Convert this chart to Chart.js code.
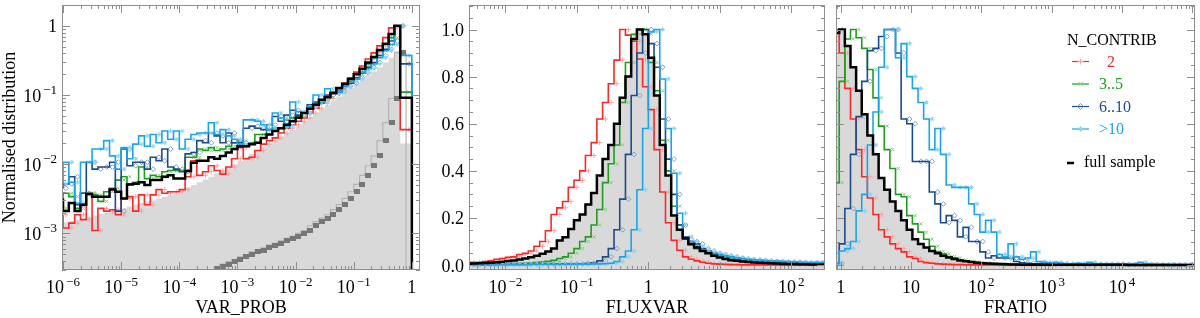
<!DOCTYPE html>
<html>
<head>
<meta charset="utf-8">
<title>N_CONTRIB distributions</title>
<script src="https://cdn.jsdelivr.net/npm/chart.js@4.4.1/dist/chart.umd.min.js"></script>
<style>
  html, body { margin: 0; padding: 0; background: #fff; }
  #wrap { position: relative; width: 1200px; height: 318px; overflow: hidden; }
  #wrap canvas { position: absolute; top: 0; }
</style>
</head>
<body>
<div id="wrap">
  <canvas id="varProbChart" width="430" height="318" style="left:0px"></canvas>
  <canvas id="fluxvarChart" width="400" height="318" style="left:430px"></canvas>
  <canvas id="fratioChart" width="370" height="318" style="left:830px"></canvas>
</div>
<script>
// ---- VAR_PROB panel: bins of 0.1 dex starting at 10^-6 ----
const varProbBinStart = -6;
const varProbBinWidth = 0.1;
const varProbRed = [
  1.86e-3, 1.2e-3, 1.41e-3, 1.86e-3, 1.58e-3, 3.8e-3, 1.1e-3, 2.3e-3, 2.1e-3, 2.2e-3,
  1.86e-3, 3.2e-3, 3.4e-3, 2.1e-3, 3.6e-3, 2.6e-3, 3.6e-3, 4.3e-3, 3.8e-3, 4.0e-3,
  4.0e-3, 4.3e-3, 6.6e-3, 0.0112, 6.9e-3, 7.8e-3, 9.5e-3, 8.1e-3, 7.2e-3, 9.1e-3,
  0.012, 0.0174, 0.012, 0.0126, 0.0158, 0.0195, 0.0219, 0.024, 0.0282, 0.0331,
  0.0372, 0.0417, 0.0468, 0.055, 0.0646, 0.0759, 0.0891, 0.105, 0.123, 0.148,
  0.178, 0.214, 0.263, 0.331, 0.407, 0.513, 0.676, 0.933, 1.0, 0.0316
];
const varProbGreen = [
  2.3e-3, 3.8e-3, 3.4e-3, 2.3e-3, 3.8e-3, 3.8e-3, 3.6e-3, 2.9e-3, 4.0e-3, 4.5e-3,
  5.9e-3, 6.6e-3, 5.2e-3, 5.5e-3, 9.1e-3, 6.2e-3, 6.9e-3, 6.6e-3, 7.8e-3, 8.1e-3,
  8.1e-3, 8.1e-3, 0.0126, 0.0126, 0.0166, 0.0158, 0.0174, 0.0158, 0.0166, 0.0182,
  0.0204, 0.0219, 0.0195, 0.0204, 0.0269, 0.0269, 0.0316, 0.0331, 0.0331, 0.0437,
  0.0468, 0.049, 0.055, 0.0646, 0.0759, 0.0851, 0.0933, 0.11, 0.123, 0.145,
  0.166, 0.2, 0.234, 0.282, 0.347, 0.437, 0.537, 0.676, 1.0, 0.11
];
const varProbDarkBlue = [
  4.5e-3, 5.2e-3, 6.6e-3, 2.6e-3, 3.8e-3, 0.0107, 8.5e-3, 9.1e-3, 9.1e-3, 0.0107,
  2.1e-3, 0.0166, 9.5e-3, 0.0107, 0.0107, 8.5e-3, 0.0126, 0.0112, 0.0166, 9.1e-3,
  8.5e-3, 7.8e-3, 0.0141, 0.0148, 0.0219, 0.0204, 0.0282, 0.0257, 0.0204, 0.0282,
  0.0204, 0.0204, 0.0331, 0.0355, 0.0331, 0.0316, 0.0372, 0.049, 0.0417, 0.0513,
  0.0603, 0.0513, 0.055, 0.0724, 0.0794, 0.0851, 0.1, 0.105, 0.115, 0.135,
  0.148, 0.178, 0.209, 0.251, 0.295, 0.372, 0.457, 0.603, 1.0, 0.282
];
const varProbLightBlue = [
  5.2e-3, 0.0107, 5.5e-3, 2.75e-3, 0.0107, 0.0107, 0.0166, 0.0166, 0.0219, 0.0132,
  8.5e-3, 0.0174, 0.012, 0.0195, 0.0257, 0.0182, 0.0269, 0.0204, 0.0302, 0.0229,
  0.0302, 0.0166, 0.0229, 0.0269, 0.0282, 0.0282, 0.0398, 0.0269, 0.0316, 0.0257,
  0.0229, 0.0195, 0.0437, 0.0437, 0.0417, 0.0372, 0.0316, 0.055, 0.0468, 0.0355,
  0.0794, 0.0575, 0.055, 0.0676, 0.1, 0.0794, 0.123, 0.11, 0.11, 0.132,
  0.155, 0.17, 0.214, 0.24, 0.282, 0.347, 0.437, 0.537, 1.0, 0.372
];
const varProbFull = [
  3.2e-3, 2.1e-3, 2.75e-3, 2.1e-3, 2.6e-3, 3.7e-3, 3.4e-3, 3.4e-3, 3.4e-3, 4.3e-3,
  4.0e-3, 3.2e-3, 5.1e-3, 5.2e-3, 5.5e-3, 5.0e-3, 5.9e-3, 5.9e-3, 6.6e-3, 6.9e-3,
  6.2e-3, 6.2e-3, 8.0e-3, 0.0105, 0.0112, 0.0112, 0.0126, 0.012, 0.0132, 0.0148,
  0.0166, 0.0182, 0.0182, 0.0195, 0.0204, 0.024, 0.0269, 0.0302, 0.0331, 0.0372,
  0.0417, 0.0468, 0.055, 0.0631, 0.0724, 0.0851, 0.0933, 0.107, 0.126, 0.145,
  0.17, 0.2, 0.24, 0.295, 0.355, 0.447, 0.55, 0.759, 1.0, 0.0912
];
const varProbGreyFill = [
  1.41e-3, 1.45e-3, 1.51e-3, 1.58e-3, 1.66e-3, 1.74e-3, 1.82e-3, 1.91e-3, 2.0e-3, 2.1e-3,
  2.2e-3, 2.3e-3, 2.45e-3, 2.6e-3, 2.75e-3, 2.9e-3, 3.0e-3, 3.2e-3, 3.4e-3, 3.6e-3,
  3.8e-3, 4.2e-3, 4.6e-3, 5.0e-3, 5.5e-3, 6.0e-3, 6.6e-3, 7.4e-3, 8.1e-3, 9.1e-3,
  0.01, 0.0112, 0.0126, 0.0141, 0.0158, 0.0178, 0.02, 0.0224, 0.0251, 0.0282,
  0.0316, 0.0363, 0.0417, 0.0479, 0.055, 0.0631, 0.0724, 0.0832, 0.0955, 0.11,
  0.126, 0.145, 0.166, 0.191, 0.219, 0.251, 0.295, 0.347, 0.437, 0.02
];
// dark grey reference histogram, same bins, starting at 10^-3.4
const varProbSquaresStart = -3.4;
const varProbSquares = [
  3.1e-4, 3.3e-4, 3.6e-4, 3.9e-4, 4.2e-4, 4.6e-4, 4.9e-4, 5.4e-4, 5.75e-4, 6.2e-4,
  6.8e-4, 7.2e-4, 7.8e-4, 8.5e-4, 9.1e-4, 1.0e-3, 1.1e-3, 1.29e-3, 1.48e-3, 1.66e-3,
  1.86e-3, 2.2e-3, 2.6e-3, 3.2e-3, 4.0e-3, 5.1e-3, 6.9e-3, 9.5e-3, 0.0132, 0.0219,
  0.0398, 0.0891, 0.407
];

// ---- FLUXVAR panel: bins of 0.08 dex starting at 10^-2.56 ----
const fluxvarBinStart = -2.56;
const fluxvarBinWidth = 0.08;
const fluxvarRed = [
  0.008, 0.01, 0.012, 0.012, 0.015, 0.018, 0.025, 0.028, 0.033, 0.035, 0.045, 0.05, 0.06, 0.08, 0.10, 0.146,
  0.215, 0.243, 0.27, 0.33, 0.36, 0.40, 0.465, 0.52, 0.62, 0.69, 0.77, 0.87, 1.0, 0.976, 0.95, 0.875,
  0.757, 0.66, 0.49, 0.31, 0.18, 0.105, 0.063, 0.035, 0.025, 0.018, 0.012, 0.008, 0.005, 0.004, 0.003, 0.002,
  0.002, 0.001, 0.001, 0.001, 0.001, 0.001, 0.001, 0.001, 0, 0, 0, 0, 0, 0, 0
];
const fluxvarGreen = [
  0.002, 0.002, 0.003, 0.003, 0.003, 0.004, 0.004, 0.005, 0.005, 0.006, 0.007, 0.008, 0.009, 0.011, 0.013, 0.016,
  0.02, 0.028, 0.035, 0.05, 0.07, 0.10, 0.12, 0.17, 0.236, 0.35, 0.43, 0.51, 0.69, 0.86, 0.98, 1.0,
  0.98, 0.86, 0.74, 0.53, 0.40, 0.25, 0.17, 0.12, 0.085, 0.07, 0.06, 0.05, 0.045, 0.04, 0.035, 0.03,
  0.025, 0.022, 0.02, 0.018, 0.015, 0.013, 0.012, 0.01, 0.009, 0.008, 0.007, 0.006, 0.005, 0.005, 0.004
];
const fluxvarDarkBlue = [
  0.002, 0.002, 0.002, 0.002, 0.002, 0.002, 0.003, 0.003, 0.003, 0.003, 0.003, 0.003, 0.004, 0.004, 0.004, 0.004,
  0.005, 0.005, 0.005, 0.005, 0.005, 0.006, 0.008, 0.01, 0.018, 0.035, 0.07, 0.15, 0.28, 0.47, 0.72, 0.90,
  1.0, 0.94, 0.84, 0.62, 0.45, 0.30, 0.17, 0.11, 0.10, 0.09, 0.07, 0.06, 0.05, 0.045, 0.04, 0.035,
  0.03, 0.027, 0.024, 0.022, 0.02, 0.018, 0.016, 0.015, 0.014, 0.013, 0.012, 0.011, 0.01, 0.01, 0.01
];
const fluxvarLightBlue = [
  0.002, 0.002, 0.002, 0.002, 0.002, 0.002, 0.002, 0.002, 0.002, 0.002, 0.002, 0.002, 0.003, 0.003, 0.003, 0.003,
  0.003, 0.003, 0.003, 0.003, 0.004, 0.004, 0.004, 0.005, 0.005, 0.006, 0.008, 0.015, 0.035, 0.06, 0.15, 0.32,
  0.58, 0.99, 1.0, 0.79, 0.58, 0.39, 0.22, 0.12, 0.10, 0.08, 0.065, 0.055, 0.05, 0.045, 0.04, 0.035,
  0.03, 0.028, 0.025, 0.022, 0.02, 0.019, 0.018, 0.017, 0.016, 0.015, 0.014, 0.013, 0.012, 0.012, 0.012
];
const fluxvarFull = [
  0.005, 0.006, 0.007, 0.008, 0.009, 0.01, 0.012, 0.014, 0.017, 0.02, 0.024, 0.028, 0.033, 0.04, 0.048, 0.058,
  0.07, 0.104, 0.118, 0.153, 0.19, 0.215, 0.257, 0.306, 0.38, 0.45, 0.51, 0.60, 0.71, 0.80, 0.96, 1.0,
  0.98, 0.88, 0.72, 0.51, 0.38, 0.21, 0.15, 0.115, 0.09, 0.075, 0.06, 0.05, 0.04, 0.032, 0.026, 0.021,
  0.018, 0.015, 0.013, 0.011, 0.01, 0.009, 0.008, 0.007, 0.006, 0.005, 0.005, 0.004, 0.004, 0.003, 0.003
];

// ---- FRATIO panel: bins of 0.08 dex starting at 10^-0.1 ----
const fratioBinStart = -0.1;
const fratioBinWidth = 0.08;
const fratioRed = [
  0.97, 1.0, 0.90, 0.75, 0.62, 0.49, 0.375, 0.285, 0.215, 0.15, 0.12, 0.09, 0.07, 0.056, 0.035, 0.028,
  0.015, 0.01, 0.008, 0.005, 0.004, 0.003, 0.002, 0.002, 0.001, 0.001, 0.001, 0.001, 0.001, 0.001, 0.001, 0.001,
  0, 0, 0, 0, 0, 0, 0, 0, 0, 0, 0, 0, 0, 0, 0, 0,
  0, 0, 0, 0, 0, 0, 0, 0, 0, 0, 0, 0, 0, 0, 0, 0, 0
];
const fratioGreen = [
  0, 0.35, 0.78, 0.96, 1.0, 0.965, 0.92, 0.83, 0.71, 0.59, 0.49, 0.41, 0.30, 0.29, 0.21, 0.175,
  0.14, 0.11, 0.08, 0.058, 0.048, 0.036, 0.03, 0.022, 0.017, 0.014, 0.011, 0.009, 0.007, 0.006, 0.005, 0.004,
  0.003, 0.003, 0.002, 0.002, 0.002, 0.002, 0.001, 0.001, 0.001, 0.001, 0.001, 0.001, 0.001, 0.001, 0.001, 0.001,
  0.001, 0.001, 0.001, 0.001, 0.001, 0, 0, 0, 0, 0, 0, 0, 0, 0, 0, 0, 0
];
const fratioDarkBlue = [
  0, 0.007, 0.09, 0.24, 0.47, 0.63, 0.78, 0.91, 0.92, 0.97, 1.0, 1.0, 0.90, 0.62, 0.60, 0.44,
  0.44, 0.44, 0.31, 0.26, 0.18, 0.21, 0.19, 0.12, 0.16, 0.10, 0.10, 0.056, 0.03, 0.04, 0.03, 0.03,
  0.03, 0.015, 0.01, 0.008, 0.006, 0.005, 0.006, 0.005, 0.004, 0.005, 0.004, 0.004, 0.003, 0.004, 0.003, 0.003,
  0.003, 0.002, 0.003, 0.002, 0.002, 0.002, 0.002, 0.002, 0.002, 0.002, 0.001, 0.001, 0.001, 0.001, 0.001, 0.001, 0.001
];
const fratioLightBlue = [
  0, 0.007, 0.06, 0.07, 0.10, 0.23, 0.30, 0.51, 0.65, 0.84, 1.0, 1.0, 0.88, 0.94, 0.80, 0.75,
  0.69, 0.62, 0.49, 0.58, 0.47, 0.34, 0.33, 0.33, 0.33, 0.26, 0.215, 0.14, 0.19, 0.14, 0.045, 0.035,
  0.09, 0.035, 0.025, 0.03, 0.056, 0.015, 0.012, 0.01, 0.012, 0.008, 0.006, 0.006, 0.008, 0.005, 0.012, 0.005,
  0.005, 0.005, 0.004, 0.005, 0.004, 0.004, 0.005, 0.012, 0.005, 0.004, 0.003, 0.004, 0.003, 0.003, 0.003, 0.002, 0.002
];
const fratioFull = [
  0.30, 0.985, 1.0, 0.93, 0.84, 0.74, 0.64, 0.55, 0.47, 0.37, 0.32, 0.27, 0.23, 0.19, 0.15, 0.11,
  0.09, 0.075, 0.06, 0.05, 0.04, 0.032, 0.026, 0.02, 0.016, 0.013, 0.01, 0.008, 0.007, 0.006, 0.005, 0.004,
  0.003, 0.003, 0.002, 0.002, 0.002, 0.001, 0.001, 0.001, 0.001, 0.001, 0.001, 0.001, 0.001, 0.001, 0.001, 0.001,
  0.001, 0.001, 0.001, 0.001, 0.001, 0, 0, 0, 0, 0, 0, 0, 0, 0, 0, 0, 0
];

// tick labels and legend text
const varProbXTicks = [1e-6, 1e-5, 1e-4, 1e-3, 1e-2, 1e-1, 1];
const varProbYTicks = [1e-3, 1e-2, 1e-1, 1];
const fluxvarXTicks = [1e-2, 1e-1, 1, 10, 100];
const fratioXTicks = [1, 10, 100, 1000, 10000];
const normYTicks = [0, 0.2, 0.4, 0.6, 0.8, 1.0];
const legendTitle = 'N_CONTRIB';
const legendLabels = ['  2', '3..5', '6..10', '>10'];
const legendFull = 'full sample';

const SERIF = '"Liberation Serif", "Times New Roman", Times, serif';
const FRAME = '#8e8e8e';
const C_RED = '#ff2626', C_GREEN = '#1e9e1e', C_DBLUE = '#1c4c8a', C_LBLUE = '#1aa5ea';
const M_RED = '#ffa0a0', M_GREEN = '#86cc86', M_DBLUE = '#7d9fca', M_LBLUE = '#8ed3f5';

Chart.defaults.font.family = SERIF;

// dark grey block used as the point style of the reference histogram
const greyBlock = document.createElement('canvas');
greyBlock.width = 6;
greyBlock.height = 5;
(function () {
  const g = greyBlock.getContext('2d');
  g.fillStyle = '#777777';
  g.fillRect(0, 0, 6, 5);
})();

// step outline through bin edges, ending with a drop to `floor`
function binEdgePoints(start, width, vals, floor) {
  const pts = vals.map((v, i) => ({ x: Math.pow(10, start + width * i), y: v }));
  const xEnd = Math.pow(10, start + width * vals.length);
  pts.push({ x: xEnd, y: vals[vals.length - 1] });
  pts.push({ x: xEnd, y: floor });
  return pts;
}
function binCentrePoints(start, width, vals) {
  return vals.map((v, i) => ({ x: Math.pow(10, start + width * (i + 0.5)), y: v }));
}
function stepSet(start, width, vals, color, lw, order, floor) {
  return { data: binEdgePoints(start, width, vals, floor), borderColor: color, borderWidth: lw,
    stepped: 'after', pointRadius: 0, fill: false, order: order };
}
function markSet(start, width, vals, color, style, radius, order) {
  return { data: binCentrePoints(start, width, vals), showLine: false, pointStyle: style,
    pointRadius: radius, pointBorderWidth: 1, pointBorderColor: color,
    pointBackgroundColor: 'rgba(0,0,0,0)', order: order };
}
function fillSet(start, width, vals, color, order, floor) {
  return { data: binEdgePoints(start, width, vals, floor), borderColor: 'rgba(0,0,0,0)', borderWidth: 1,
    backgroundColor: color, fill: 'start', stepped: 'after', pointRadius: 0, order: order };
}
function panelSets(start, width, red, green, dblue, lblue, full, floor) {
  return [
    stepSet(start, width, full, '#000', 2.5, 0, floor),
    stepSet(start, width, lblue, C_LBLUE, 1.6, 1, floor),
    markSet(start, width, lblue, M_LBLUE, 'star', 2.3, 1.5),
    stepSet(start, width, dblue, C_DBLUE, 1.6, 2, floor),
    markSet(start, width, dblue, M_DBLUE, 'rectRot', 2.4, 2.5),
    stepSet(start, width, green, C_GREEN, 1.6, 3, floor),
    markSet(start, width, green, M_GREEN, 'crossRot', 2.3, 3.5),
    stepSet(start, width, red, C_RED, 1.6, 4, floor),
    markSet(start, width, red, M_RED, 'cross', 2.5, 4.5)
  ];
}

// axis helpers: ticks inside all four sides, IDL-like labels
function logTicks(min, max) {
  const out = [];
  for (let d = Math.floor(Math.log10(min)); d <= Math.ceil(Math.log10(max)); d++) {
    for (let m = 1; m <= 9; m++) {
      const v = m * Math.pow(10, d);
      if (v >= min * 0.9999 && v <= max * 1.0001) out.push({ v: v, major: m === 1 });
    }
  }
  return out;
}
function linTicks(min, max, step, every) {
  const out = [];
  for (let k = Math.ceil(min / step - 1e-9); k * step <= max + 1e-9; k++) out.push({ v: k * step, major: k % every === 0 });
  return out;
}
function logLabel(v) {
  if (v === 1) return { base: '1', exp: '' };
  if (v === 10) return { base: '10', exp: '' };
  const e = Math.round(Math.log10(v));
  return { base: '10', exp: (e < 0 ? '\u2212' : '') + Math.abs(e) };
}
function drawTickLabel(ctx, lab, x, y, align) {
  ctx.font = '18px ' + SERIF;
  const wb = ctx.measureText(lab.base).width;
  ctx.font = '13px ' + SERIF;
  const gap = lab.exp ? 2 : 0;
  const we = lab.exp ? ctx.measureText(lab.exp).width : 0;
  const w = wb + gap + we;
  const x0 = align === 'center' ? x - w / 2 : x - w;
  ctx.textAlign = 'left';
  ctx.textBaseline = 'alphabetic';
  ctx.font = '18px ' + SERIF;
  ctx.fillText(lab.base, x0, y);
  if (lab.exp) {
    ctx.font = '13px ' + SERIF;
    ctx.fillText(lab.exp, x0 + wb + gap, y - 7.5);
  }
}
function makeAxes(cfg) {
  return {
    id: 'idlAxes',
    afterDraw(chart) {
      const { ctx, chartArea: a } = chart;
      const xs = chart.scales.x, ys = chart.scales.y;
      ctx.save();
      ctx.strokeStyle = FRAME;
      ctx.lineWidth = 1;
      ctx.beginPath();
      logTicks(xs.min, xs.max).forEach(t => {
        const px = Math.round(xs.getPixelForValue(t.v)) + 0.5;
        const len = t.major ? 8 : 4;
        ctx.moveTo(px, a.bottom); ctx.lineTo(px, a.bottom - len);
        ctx.moveTo(px, a.top); ctx.lineTo(px, a.top + len);
      });
      const yt = cfg.yLog ? logTicks(ys.min, ys.max) : linTicks(ys.min, ys.max, 0.05, 4);
      yt.forEach(t => {
        const py = Math.round(ys.getPixelForValue(t.v)) + 0.5;
        const len = t.major ? 8 : 4;
        ctx.moveTo(a.left, py); ctx.lineTo(a.left + len, py);
        ctx.moveTo(a.right, py); ctx.lineTo(a.right - len, py);
      });
      ctx.stroke();
      ctx.strokeRect(a.left + 0.5, a.top + 0.5, a.right - a.left - 1, a.bottom - a.top - 1);

      ctx.fillStyle = '#000';
      cfg.xTicks.forEach(v => drawTickLabel(ctx, logLabel(v), xs.getPixelForValue(v), a.bottom + 23, 'center'));
      if (cfg.yTicks) {
        cfg.yTicks.forEach(v => {
          const lab = cfg.yLog ? logLabel(v) : { base: v.toFixed(1), exp: '' };
          drawTickLabel(ctx, lab, a.left - 5, ys.getPixelForValue(v) + 6.5, 'right');
        });
      }
      ctx.font = '18px ' + SERIF;
      ctx.textAlign = 'center';
      ctx.textBaseline = 'alphabetic';
      ctx.fillText(cfg.xTitle, (a.left + a.right) / 2, a.bottom + 43);
      if (cfg.yTitle) {
        ctx.save();
        ctx.translate(15, (a.top + a.bottom) / 2);
        ctx.rotate(-Math.PI / 2);
        ctx.fillText(cfg.yTitle, 0, 0);
        ctx.restore();
      }
      ctx.restore();
    }
  };
}

// N_CONTRIB legend inside the FRATIO panel
const legendMarks = [
  { line: C_RED, mark: M_RED, style: 'cross' },
  { line: C_GREEN, mark: M_GREEN, style: 'crossRot' },
  { line: C_DBLUE, mark: M_DBLUE, style: 'rectRot' },
  { line: C_LBLUE, mark: M_LBLUE, style: 'star' }
];
const ncontribLegend = {
  id: 'ncontribLegend',
  afterDraw(chart) {
    const { ctx, chartArea: a } = chart;
    const x0 = a.right - 128;
    ctx.save();
    ctx.font = '16px ' + SERIF;
    ctx.textAlign = 'left';
    ctx.textBaseline = 'alphabetic';
    ctx.fillStyle = '#000';
    ctx.fillText(legendTitle, x0, a.top + 40);
    legendLabels.forEach((label, i) => {
      const m = legendMarks[i];
      const yb = a.top + 61.5 + 22.5 * i;
      const ym = yb - 5;
      ctx.strokeStyle = m.line;
      ctx.lineWidth = 1.2;
      ctx.beginPath(); ctx.moveTo(x0 + 5, ym); ctx.lineTo(x0 + 22, ym); ctx.stroke();
      ctx.strokeStyle = m.mark;
      ctx.fillStyle = 'rgba(0,0,0,0)';
      ctx.lineWidth = 1;
      Chart.helpers.drawPoint(ctx, { pointStyle: m.style, radius: 3, borderWidth: 1, rotation: 0 }, x0 + 13.5, ym);
      ctx.fillStyle = m.line;
      ctx.fillText(label, x0 + 32, yb);
    });
    ctx.strokeStyle = '#000';
    ctx.lineWidth = 2.5;
    ctx.beginPath(); ctx.moveTo(x0, a.top + 158); ctx.lineTo(x0 + 7, a.top + 158); ctx.stroke();
    ctx.fillStyle = '#000';
    ctx.fillText(legendFull, x0 + 17, a.top + 162);
    ctx.restore();
  }
};

function baseOptions(pad, xMin, xMax, yType, yMin, yMax) {
  return {
    responsive: false,
    animation: false,
    devicePixelRatio: 1,
    events: [],
    layout: { padding: pad },
    plugins: { legend: { display: false }, tooltip: { enabled: false } },
    scales: {
      x: { type: 'logarithmic', min: xMin, max: xMax, bounds: 'data', display: false },
      y: { type: yType, min: yMin, max: yMax, bounds: 'data', display: false }
    }
  };
}

// VAR_PROB
const varProbSets = panelSets(varProbBinStart, varProbBinWidth, varProbRed, varProbGreen,
  varProbDarkBlue, varProbLightBlue, varProbFull, 1e-9);
// thin outline underneath, grey blocks on top of it
varProbSets.push(stepSet(varProbSquaresStart, varProbBinWidth, varProbSquares, '#b4b4b4', 1.2, 5.2, 1e-9));
varProbSets.push({ data: binCentrePoints(varProbSquaresStart, varProbBinWidth, varProbSquares),
  showLine: false, pointStyle: greyBlock, pointRadius: 3, order: 5.1 });
varProbSets.push(fillSet(varProbBinStart, varProbBinWidth, varProbGreyFill, '#d9d9d9', 6, 1e-9));
new Chart(document.getElementById('varProbChart'), {
  type: 'line',
  data: { datasets: varProbSets },
  options: baseOptions({ left: 62, right: 10, top: 0, bottom: 48 }, 9.6e-7, 1.38, 'logarithmic', 2.96e-4, 2.0),
  plugins: [makeAxes({ xTicks: varProbXTicks, yTicks: varProbYTicks, yLog: true,
    xTitle: 'VAR_PROB', yTitle: 'Normalised distribution' })]
});

// FLUXVAR
const fluxvarSets = panelSets(fluxvarBinStart, fluxvarBinWidth, fluxvarRed, fluxvarGreen,
  fluxvarDarkBlue, fluxvarLightBlue, fluxvarFull, 0);
fluxvarSets.push(fillSet(fluxvarBinStart, fluxvarBinWidth, fluxvarFull, '#d9d9d9', 6, 0));
new Chart(document.getElementById('fluxvarChart'), {
  type: 'line',
  data: { datasets: fluxvarSets },
  options: baseOptions({ left: 39, right: 1, top: 0, bottom: 48 }, 3.1e-3, 296, 'linear', -0.0208, 1.104),
  plugins: [makeAxes({ xTicks: fluxvarXTicks, yTicks: normYTicks, yLog: false, xTitle: 'FLUXVAR' })]
});

// FRATIO
const fratioSets = panelSets(fratioBinStart, fratioBinWidth, fratioRed, fratioGreen,
  fratioDarkBlue, fratioLightBlue, fratioFull, 0);
fratioSets.push(fillSet(fratioBinStart, fratioBinWidth, fratioFull, '#d9d9d9', 6, 0));
new Chart(document.getElementById('fratioChart'), {
  type: 'line',
  data: { datasets: fratioSets },
  options: baseOptions({ left: 6, right: 1, top: 0, bottom: 48 }, 0.859, 1.09e5, 'linear', -0.0208, 1.104),
  plugins: [makeAxes({ xTicks: fratioXTicks, yLog: false, xTitle: 'FRATIO' }), ncontribLegend]
});
</script>
</body>
</html>
